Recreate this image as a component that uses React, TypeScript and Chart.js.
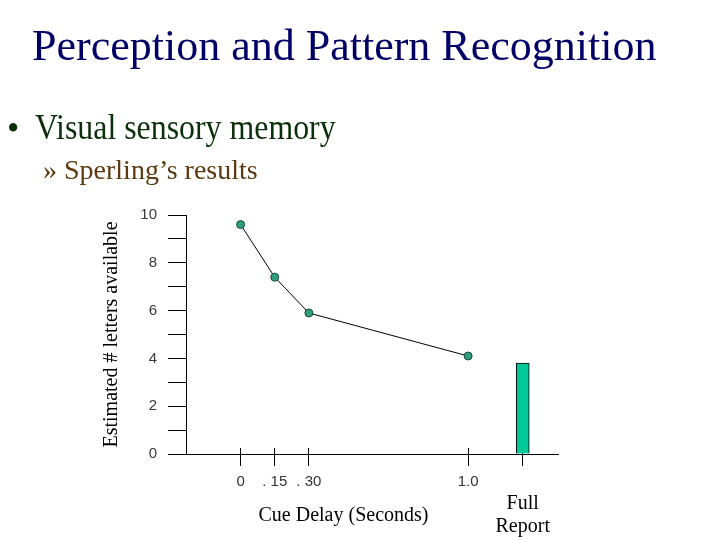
import React, { useEffect, useRef } from "react";
import { Chart, registerables } from "chart.js";

Chart.register(...registerables);

// ---- data ----
const slideTitle = "Perception and Pattern Recognition";
const bulletText = "Visual sensory memory";
const subBulletText = "Sperling’s results";
const yAxisTitle = "Estimated # letters available";
const xAxisTitle = "Cue Delay (Seconds)";

const cueDelays = [0, 0.15, 0.3, 1.0];
const lettersAvailable = [9.6, 7.4, 5.9, 4.1];
const fullReportPosition = 1.24;
const fullReportValue = 3.8;

const xTickValues = [0, 0.15, 0.3, 1.0, fullReportPosition];
const xTickLabels: (string | string[])[] = ["0", ". 15", ". 30", "1.0", ["", "Full", "Report"]];
const yTickLabels = ["0", "", "2", "", "4", "", "6", "", "8", "", "10"];

const SERIF = "'Liberation Serif', 'Times New Roman', Times, serif";
const SANS = "'Liberation Sans', Arial, sans-serif";

const crossTicksPlugin = {
  id: "crossTicks",
  beforeDatasetsDraw(chart: any) {
    const s = chart.scales.x;
    const ctx = chart.ctx;
    const y = chart.chartArea.bottom;
    ctx.save();
    ctx.strokeStyle = "#000";
    ctx.lineWidth = 1;
    s.ticks.forEach((t: any) => {
      const px = Math.round(s.getPixelForValue(t.value) - 0.5) + 0.5;
      ctx.beginPath();
      ctx.moveTo(px, y - 6);
      ctx.lineTo(px, y);
      ctx.stroke();
    });
    ctx.restore();
  },
};

export default function App() {
  const canvasRef = useRef<HTMLCanvasElement | null>(null);

  useEffect(() => {
    if (!canvasRef.current) return;
    const chart = new Chart(canvasRef.current, {
      type: "line",
      data: {
        datasets: [
          {
            type: "line",
            label: "Partial report",
            data: cueDelays.map((x, i) => ({ x, y: lettersAvailable[i] })),
            borderColor: "#000",
            borderWidth: 1,
            pointRadius: 4,
            pointBackgroundColor: "#2e9e7c",
            pointBorderColor: "#1b4a3a",
            pointBorderWidth: 1,
            tension: 0,
            fill: false,
          },
          {
            type: "bar",
            label: "Full Report",
            data: [{ x: fullReportPosition, y: fullReportValue }],
            backgroundColor: "#00c896",
            borderColor: "#000",
            borderWidth: 1,
            barThickness: 13,
          } as any,
        ],
      },
      options: {
        responsive: false,
        animation: false,
        devicePixelRatio: 1,
        layout: { padding: { top: 215, right: 162, left: 0, bottom: 0 } },
        plugins: {
          legend: { display: false },
          tooltip: { enabled: false },
          title: { display: false },
        },
        scales: {
          x: {
            type: "linear",
            min: -0.24,
            max: 1.395,
            offset: false,
            afterFit: (scale: any) => {
              scale.height = 86;
            },
            afterBuildTicks: (scale: any) => {
              scale.ticks = xTickValues.map((v) => ({ value: v }));
            },
            ticks: {
              autoSkip: false,
              maxRotation: 0,
              minRotation: 0,
              padding: 3,
              color: (ctx: any) => (ctx.index === 4 ? "#000" : "#333"),
              font: (ctx: any) =>
                ctx.index === 4
                  ? { family: SERIF, size: 20, lineHeight: 1.15 }
                  : { family: SANS, size: 15, lineHeight: 1.733 },
              callback: (_v: any, i: number) => xTickLabels[i],
            },
            grid: {
              display: true,
              drawOnChartArea: false,
              drawTicks: true,
              tickLength: 12,
              color: "#000",
              lineWidth: 1,
              offset: false,
            },
            border: { display: true, color: "#000", width: 1 },
          },
          y: {
            type: "linear",
            min: 0,
            max: 10,
            afterFit: (scale: any) => {
              scale.width = 186;
            },
            ticks: {
              stepSize: 1,
              autoSkip: false,
              padding: 11,
              color: "#3a3a3a",
              font: { family: SANS, size: 15 },
              callback: (_v: any, i: number) => yTickLabels[i],
            },
            grid: {
              display: true,
              drawOnChartArea: false,
              drawTicks: true,
              tickLength: 18,
              color: "#000",
              lineWidth: 1,
            },
            border: { display: true, color: "#000", width: 1 },
            title: {
              display: true,
              text: yAxisTitle,
              color: "#000",
              font: { family: SERIF, size: 20, lineHeight: 1.2 },
              padding: { top: 100, bottom: 0 },
            },
          },
        },
      },
      plugins: [crossTicksPlugin],
    } as any);
    return () => chart.destroy();
  }, []);

  const abs = (extra: React.CSSProperties): React.CSSProperties => ({
    position: "absolute",
    whiteSpace: "nowrap",
    fontFamily: SERIF,
    ...extra,
  });

  return (
    <div
      style={{
        position: "fixed",
        left: 0,
        top: 0,
        width: 720,
        height: 540,
        background: "#fff",
        overflow: "hidden",
      }}
    >
      <canvas
        ref={canvasRef}
        width={720}
        height={540}
        style={{ position: "absolute", left: 0, top: 0, width: 720, height: 540, display: "block" }}
      />
      <div style={abs({ left: 32, top: 24, fontSize: 44, lineHeight: "44px", color: "#000066" })}>
        {slideTitle}
      </div>
      <div style={abs({ left: 7, top: 111, fontSize: 35, lineHeight: "35px", color: "#0b2e0b" })}>•</div>
      <div
        style={abs({
          left: 35,
          top: 109.5,
          fontSize: 35,
          lineHeight: "35px",
          color: "#0b2e0b",
          transform: "scaleX(0.91)",
          transformOrigin: "left top",
        })}
      >
        {bulletText}
      </div>
      <div style={abs({ left: 43, top: 156, fontSize: 28, lineHeight: "28px", color: "#5c3a10" })}>»</div>
      <div style={abs({ left: 64, top: 156, fontSize: 28, lineHeight: "28px", color: "#5c3a10" })}>
        {subBulletText}
      </div>
      <div style={abs({ left: 258.5, top: 504, fontSize: 20, lineHeight: "20px", color: "#000" })}>
        {xAxisTitle}
      </div>
    </div>
  );
}
